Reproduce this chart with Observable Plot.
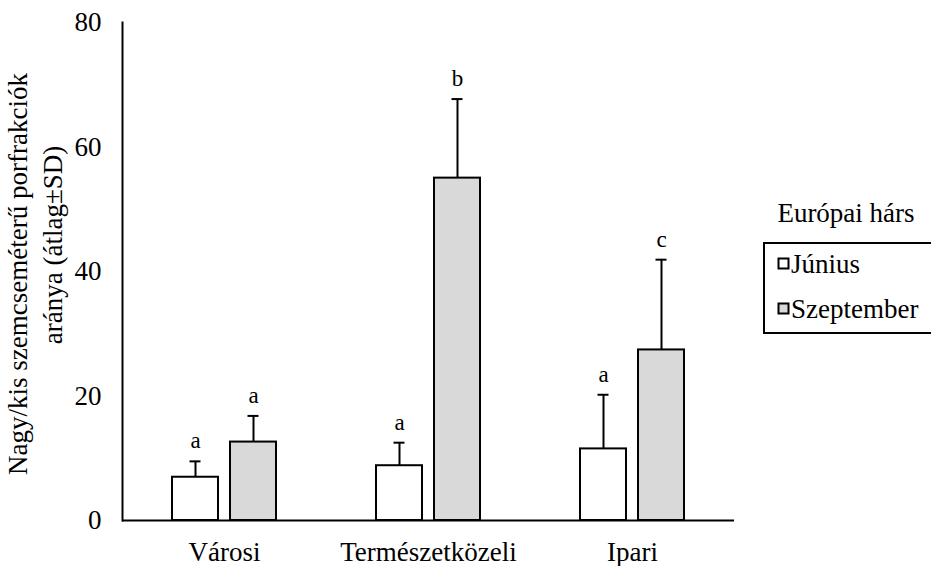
<!DOCTYPE html>
<html><head><meta charset="utf-8">
<script src="https://cdn.jsdelivr.net/npm/d3@7"></script>
<script src="https://cdn.jsdelivr.net/npm/@observablehq/plot@0.6"></script>
<style>
body{margin:0;background:#fff;overflow:hidden}
</style></head><body><div id="wrap"></div>
<script>
const sites = ["Városi", "Természetközeli", "Ipari"];
const months = ["Június", "Szeptember"];
const junMean = [6.95, 8.8, 11.5];
const junSD = [2.55, 3.7, 8.7];
const sepMean = [12.6, 55.0, 27.4];
const sepSD = [4.2, 12.7, 14.5];
const junLetters = ["a", "a", "a"];
const sepLetters = ["a", "b", "c"];
const yTicks = [0, 20, 40, 60, 80];
const monthColors = ["#ffffff", "#d9d9d9"];
const legendTitle = "Európai hárs";
const yTitleLines = ["Nagy/kis szemcseméterű porfrakciók", "aránya (átlag±SD)"];

const FONT = '"Liberation Serif", "Times New Roman", serif';

const data = [];
sites.forEach((s, i) => {
  data.push({site: s, month: months[0], mean: junMean[i], sd: junSD[i], letter: junLetters[i]});
  data.push({site: s, month: months[1], mean: sepMean[i], sd: sepSD[i], letter: sepLetters[i]});
});

const chart = Plot.plot({
  width: 931, height: 566,
  marginLeft: 121, marginRight: 196, marginTop: 22, marginBottom: 46,
  style: {fontFamily: FONT, fontSize: "27px", color: "#000", background: "white"},
  fx: {domain: sites, padding: 0, label: null},
  x: {domain: months, paddingInner: 0.2, paddingOuter: 0.84, axis: null},
  y: {domain: [0, 80]},
  color: {domain: months, range: monthColors},
  marks: [
    Plot.axisY({ticks: yTicks, tickSize: 0, tickPadding: 21, label: null, fontSize: 27}),
    Plot.axisFx({anchor: "bottom", tickSize: 0, tickPadding: 21, label: null, fontSize: 27}),
    Plot.barY(data, {fx: "site", x: "month", y: "mean", fill: "month", stroke: "#000", strokeWidth: 2}),
    Plot.ruleX(data, {fx: "site", x: "month", y1: "mean", y2: d => d.mean + d.sd, stroke: "#000", strokeWidth: 2}),
    Plot.tickY(data, {fx: "site", x: "month", y: d => d.mean + d.sd, stroke: "#000", strokeWidth: 2, insetLeft: 17.5, insetRight: 17.5}),
    Plot.text(data, {fx: "site", x: "month", y: d => d.mean + d.sd, text: "letter", dy: -13, lineAnchor: "bottom", fontSize: 23, fill: "#000"}),
    Plot.ruleY([0], {stroke: "#000", strokeWidth: 2}),
    Plot.frame({anchor: "left", facetAnchor: "left", stroke: "#000", strokeWidth: 2})
  ]
});

document.getElementById("wrap").appendChild(chart);

// Extra annotations (axis title, legend) appended into the same SVG so they share its font
const svg = d3.select(chart);
const extra = svg.append("g").attr("font-family", FONT).attr("font-size", 27).attr("fill", "#000");

// y-axis title, two lines
extra.append("text").attr("transform", "translate(27,274) rotate(-90)").attr("text-anchor", "middle").text(yTitleLines[0]);
extra.append("text").attr("transform", "translate(62,245) rotate(-90)").attr("text-anchor", "middle").text(yTitleLines[1]);

// legend
extra.append("text").attr("x", 846).attr("y", 222).attr("text-anchor", "middle").text(legendTitle);
extra.append("rect").attr("x", 764).attr("y", 243).attr("width", 200).attr("height", 90)
  .attr("fill", "#fff").attr("stroke", "#000").attr("stroke-width", 2);
months.forEach((m, i) => {
  extra.append("rect").attr("x", 778.5).attr("y", 258.5 + 45 * i).attr("width", 10).attr("height", 10)
    .attr("fill", monthColors[i]).attr("stroke", "#000").attr("stroke-width", 2);
  extra.append("text").attr("x", 791).attr("y", 273 + 45 * i).attr("text-anchor", "start").text(m);
});
</script>
</body></html>
